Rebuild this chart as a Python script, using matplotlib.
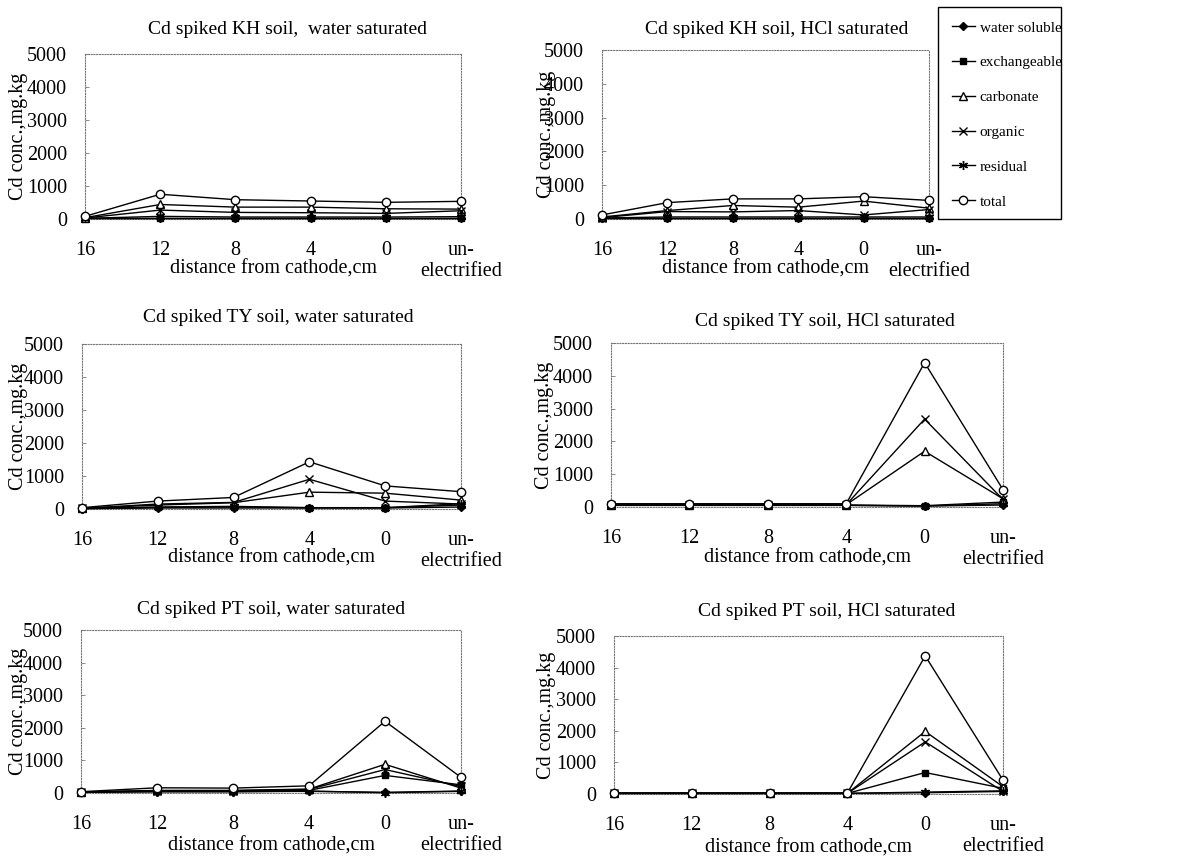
import matplotlib
matplotlib.use("Agg")
import matplotlib.pyplot as plt
from matplotlib.patches import Rectangle
from matplotlib.lines import Line2D

plt.rcParams['font.family'] = ['Liberation Serif', 'DejaVu Serif']

# x categories (distance from cathode)
distances = ["16", "12", "8", "4", "0", "un-\nelectrified"]
fractions = ["water soluble", "exchangeable", "carbonate", "organic", "residual", "total"]

# KH soil, water saturated
kh_w_ws = [20, 20, 20, 20, 20, 20]
kh_w_ex = [30, 30, 30, 30, 30, 30]
kh_w_carb = [40, 440, 360, 360, 310, 300]
kh_w_org = [30, 270, 200, 190, 170, 250]
kh_w_res = [20, 80, 60, 60, 60, 70]
kh_w_tot = [80, 750, 585, 545, 505, 535]

# KH soil, HCl saturated
kh_h_ws = [20, 20, 20, 20, 20, 20]
kh_h_ex = [40, 40, 40, 40, 40, 40]
kh_h_carb = [60, 250, 400, 350, 530, 320]
kh_h_org = [40, 220, 210, 250, 120, 280]
kh_h_res = [30, 60, 60, 60, 60, 60]
kh_h_tot = [120, 485, 595, 595, 660, 550]

# TY soil, water saturated
ty_w_ws = [10, 30, 30, 30, 30, 60]
ty_w_ex = [20, 50, 60, 40, 40, 120]
ty_w_carb = [20, 120, 190, 510, 480, 270]
ty_w_org = [20, 150, 200, 900, 240, 150]
ty_w_res = [10, 60, 80, 40, 40, 160]
ty_w_tot = [40, 240, 350, 1430, 700, 525]

# TY soil, HCl saturated
ty_h_ws = [50, 50, 50, 50, 30, 60]
ty_h_ex = [60, 60, 60, 60, 40, 150]
ty_h_carb = [70, 70, 70, 70, 1700, 250]
ty_h_org = [70, 70, 70, 70, 2680, 230]
ty_h_res = [50, 50, 50, 50, 30, 100]
ty_h_tot = [100, 100, 100, 100, 4400, 530]

# PT soil, water saturated
pt_w_ws = [20, 40, 40, 50, 20, 60]
pt_w_ex = [30, 60, 60, 80, 540, 250]
pt_w_carb = [30, 80, 80, 120, 880, 150]
pt_w_org = [30, 70, 70, 110, 720, 200]
pt_w_res = [20, 40, 40, 60, 10, 50]
pt_w_tot = [40, 160, 150, 220, 2200, 480]

# PT soil, HCl saturated
pt_h_ws = [20, 20, 20, 20, 40, 80]
pt_h_ex = [20, 20, 20, 20, 680, 180]
pt_h_carb = [20, 20, 20, 20, 1980, 230]
pt_h_org = [20, 20, 20, 20, 1650, 80]
pt_h_res = [20, 20, 20, 20, 60, 100]
pt_h_tot = [30, 30, 30, 30, 4370, 440]

titles = ["Cd spiked KH soil,  water saturated", "Cd spiked KH soil, HCl saturated",
          "Cd spiked TY soil, water saturated", "Cd spiked TY soil, HCl saturated",
          "Cd spiked PT soil, water saturated", "Cd spiked PT soil, HCl saturated"]

panels = [
    [kh_w_ws, kh_w_ex, kh_w_carb, kh_w_org, kh_w_res, kh_w_tot],
    [kh_h_ws, kh_h_ex, kh_h_carb, kh_h_org, kh_h_res, kh_h_tot],
    [ty_w_ws, ty_w_ex, ty_w_carb, ty_w_org, ty_w_res, ty_w_tot],
    [ty_h_ws, ty_h_ex, ty_h_carb, ty_h_org, ty_h_res, ty_h_tot],
    [pt_w_ws, pt_w_ex, pt_w_carb, pt_w_org, pt_w_res, pt_w_tot],
    [pt_h_ws, pt_h_ex, pt_h_carb, pt_h_org, pt_h_res, pt_h_tot],
]

# marker styles per fraction
styles = [
    dict(marker='D', ms=4, mfc='black', mec='black'),
    dict(marker='s', ms=5, mfc='black', mec='black'),
    dict(marker='^', ms=5.5, mfc='white', mec='black'),
    dict(marker='x', ms=5.5, mec='black', mew=1.0),
    dict(marker=(6, 2, 0), ms=6.5, mec='black', mew=1.0),
    dict(marker='o', ms=6, mfc='white', mec='black'),
]

W, H = 1183, 856
# axes boxes in pixels: left, top, right, bottom
boxes = [(85, 54, 461, 219), (602, 50, 929, 219),
         (82, 344, 461, 509), (611, 343, 1003, 507),
         (81, 630, 461, 793), (614, 636, 1003, 794)]
title_pos = [(287, 24), (777, 20), (278, 26), (825, 22), (271, 20), (827, 25)]
ylab_off = [66, 55, 63, 67, 62, 68]
xlab_off = [50, 50, 49, 51, 53, 54]

fig = plt.figure(figsize=(W / 100, H / 100), dpi=100)
fig.patch.set_facecolor('white')

x = list(range(len(distances)))

for i, (l, t, r, b) in enumerate(boxes):
    ax = fig.add_axes([l / W, 1 - b / H, (r - l) / W, (b - t) / H])
    for j, series in enumerate(panels[i]):
        ax.plot(x, series, color='black', lw=1.0, clip_on=False, zorder=3 + j, **styles[j])
    ax.set_xlim(0, 5)
    ax.set_ylim(0, 5000)
    ax.set_yticks([0, 1000, 2000, 3000, 4000, 5000])
    ax.set_xticks(x)
    ax.set_xticklabels(distances, linespacing=1.1)
    ax.tick_params(axis='x', length=0, pad=16, labelsize=14.5)
    ax.tick_params(axis='y', direction='in', length=3, width=0.6, color='#777777',
                   pad=13, labelsize=14.5)
    for sp in ax.spines.values():
        sp.set_linestyle((0, (1, 1.5)))
        sp.set_color('#777777')
        sp.set_linewidth(0.8)
    ax.set_ylabel("Cd conc.,mg.kg", fontsize=14.5)
    ax.yaxis.set_label_coords(-ylab_off[i] / (r - l), 0.5)
    ax.yaxis.label.set_va('center')
    ax.annotate("distance from cathode,cm", xy=(0.5, 0), xycoords='axes fraction',
                xytext=(0, -xlab_off[i]), textcoords='offset pixels',
                ha='center', va='center', fontsize=14.5)
    cx, dy = title_pos[i]
    ax.annotate(titles[i], xy=((cx - l) / (r - l), 1), xycoords='axes fraction',
                xytext=(0, dy), textcoords='offset pixels',
                ha='center', va='center', fontsize=14)

# legend box
fig.patches.append(Rectangle((938 / W, 1 - 219 / H), 123 / W, 212 / H,
                             transform=fig.transFigure, fill=False,
                             edgecolor='black', lw=1.0))
handles = [Line2D([], [], color='black', lw=1.0, **s) for s in styles]
fig.legend(handles, fractions, loc='upper left', bbox_to_anchor=(952 / W, 1 - 21 / H),
           frameon=False, fontsize=11, handlelength=1.5, handletextpad=0.3,
           labelspacing=1.38, borderpad=0, borderaxespad=0)

fig.savefig("out.png", dpi=100, facecolor='white')
